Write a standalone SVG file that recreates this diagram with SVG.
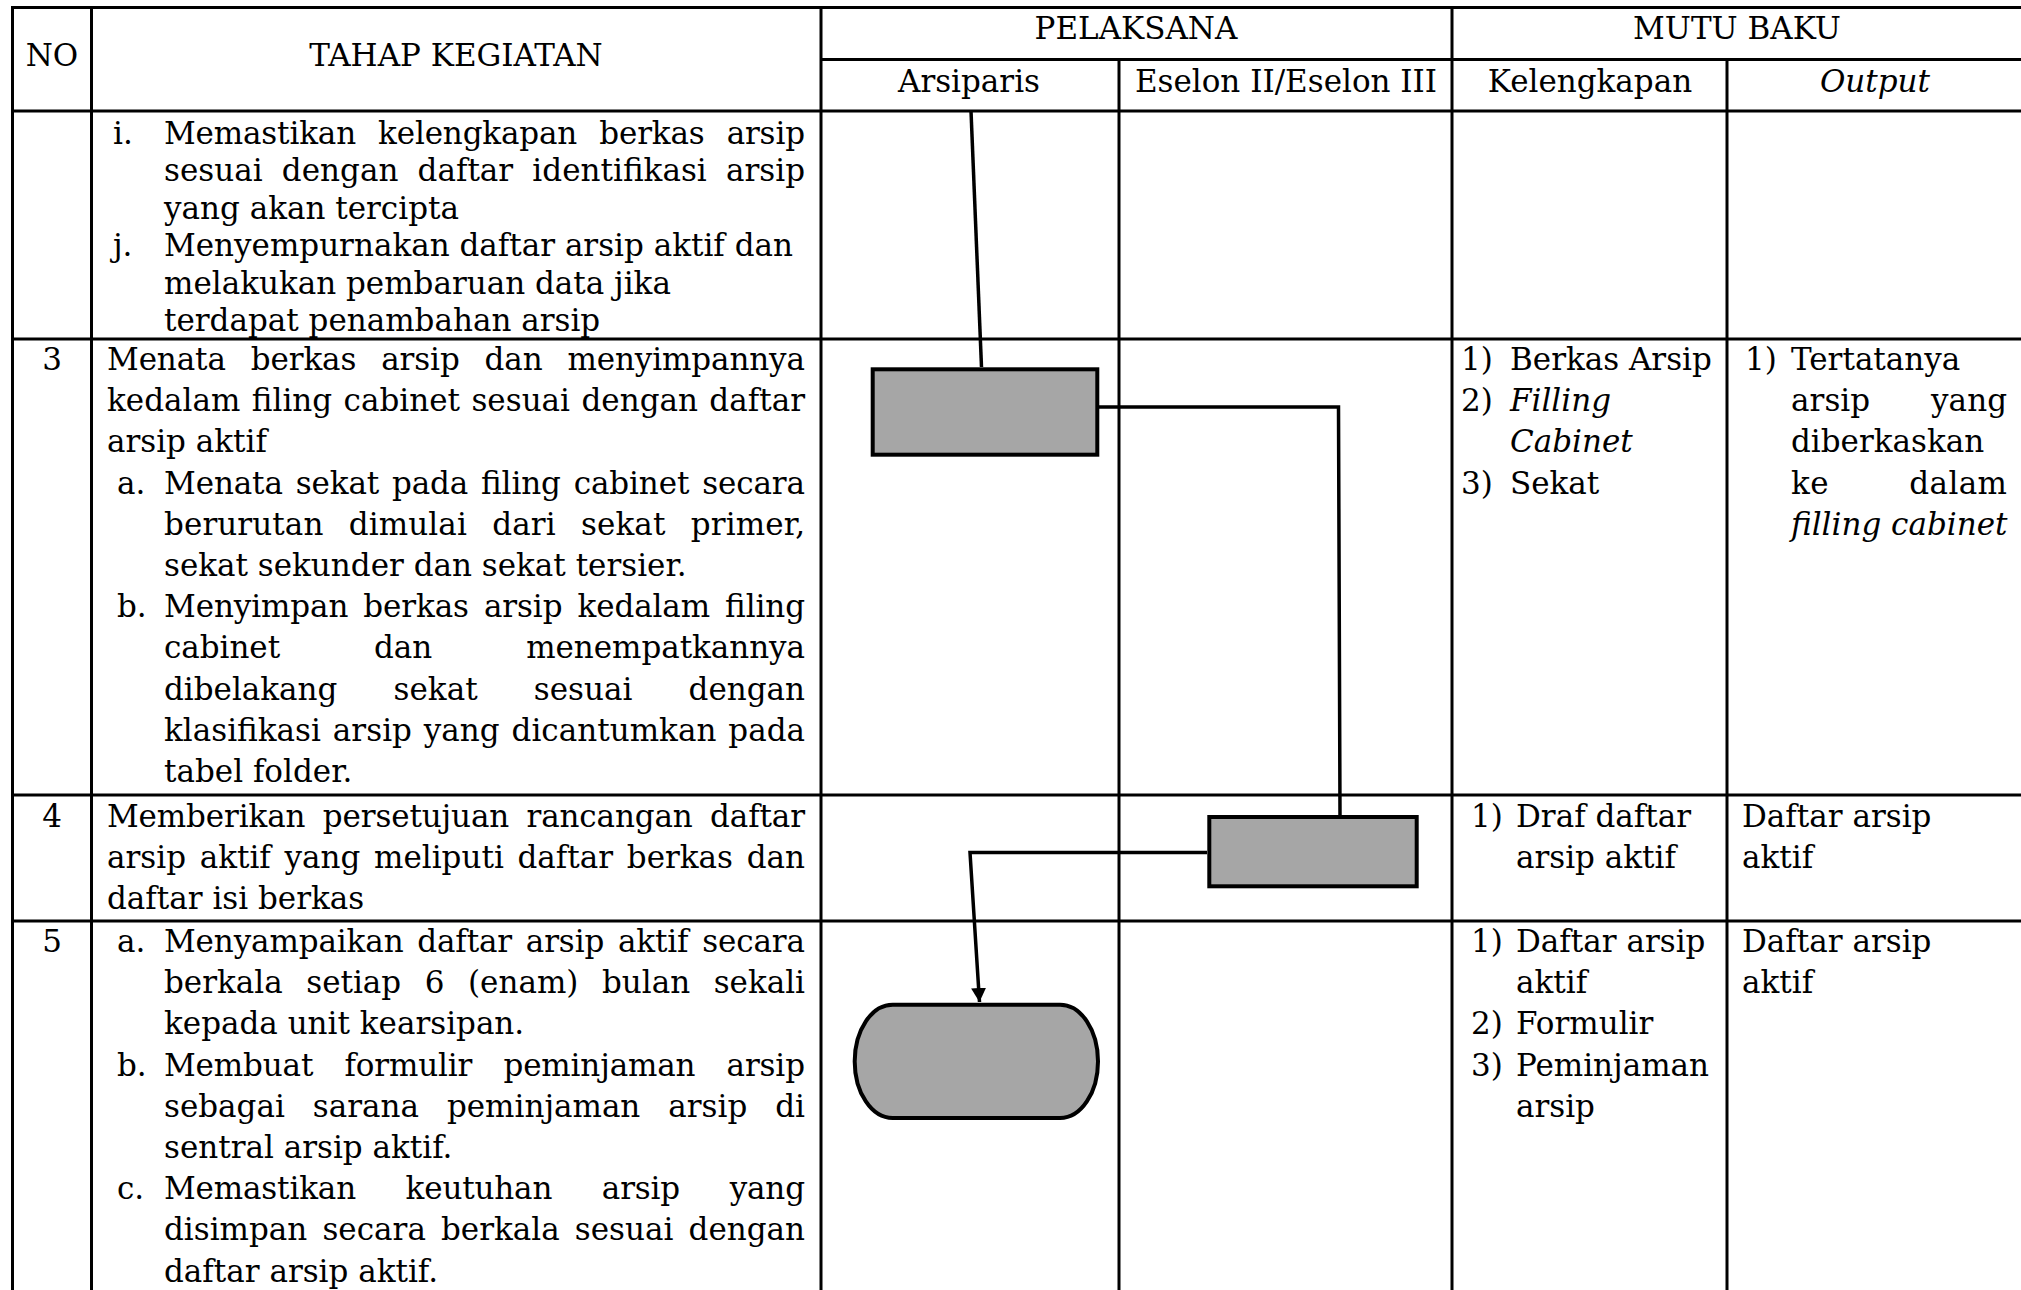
<svg xmlns="http://www.w3.org/2000/svg" width="2021" height="1290" viewBox="0 0 2021 1290">
<style>
.t{font-family:"DejaVu Serif","Liberation Serif",serif;font-size:31px;fill:#000}
.it{font-style:italic}
.m{text-anchor:middle}
.grid line{stroke:#000;stroke-width:3}
.box{fill:#a6a6a6;stroke:#000;stroke-width:4}
.con{fill:none;stroke:#000;stroke-width:3.5}
</style>
<defs>
<marker id="arr" markerUnits="userSpaceOnUse" markerWidth="16" markerHeight="16" refX="14" refY="7.5" orient="auto">
<path d="M0,0 L14,7.5 L0,15 z" fill="#000"/>
</marker>
</defs>
<rect width="2021" height="1290" fill="#fff"/>
<g id="table" class="grid">
<line x1="11" y1="7.5" x2="2021" y2="7.5"/>
<line x1="821" y1="59.5" x2="2021" y2="59.5"/>
<line x1="11" y1="111" x2="2021" y2="111"/>
<line x1="11" y1="339" x2="2021" y2="339"/>
<line x1="11" y1="795" x2="2021" y2="795"/>
<line x1="11" y1="921" x2="2021" y2="921"/>
<line x1="12.5" y1="6" x2="12.5" y2="1290"/>
<line x1="91.5" y1="6" x2="91.5" y2="1290"/>
<line x1="821" y1="6" x2="821" y2="1290"/>
<line x1="1119" y1="59.5" x2="1119" y2="1290"/>
<line x1="1452" y1="6" x2="1452" y2="1290"/>
<line x1="1727" y1="59.5" x2="1727" y2="1290"/>
</g>
<g id="header" class="t">
<text class="m" x="52" y="66">NO</text>
<text class="m" x="456" y="66">TAHAP KEGIATAN</text>
<text class="m" x="1136" y="39">PELAKSANA</text>
<text class="m" x="1737" y="39">MUTU BAKU</text>
<text class="m" x="969" y="92">Arsiparis</text>
<text class="m" x="1286" y="92">Eselon II/Eselon III</text>
<text class="m" x="1590" y="92">Kelengkapan</text>
<text class="m it" x="1875" y="92">Output</text>
</g>
<g id="row-ij" class="t">
<text x="113" y="144">i.</text>
<text x="164" y="144" word-spacing="12.4" textLength="641" lengthAdjust="spacing">Memastikan kelengkapan berkas arsip</text>
<text x="164" y="181.4" word-spacing="9.3" textLength="641" lengthAdjust="spacing">sesuai dengan daftar identifikasi arsip</text>
<text x="164" y="218.8">yang akan tercipta</text>
<text x="113" y="256.2">j.</text>
<text x="164" y="256.2">Menyempurnakan daftar arsip aktif dan</text>
<text x="164" y="293.6">melakukan pembaruan data jika</text>
<text x="164" y="331">terdapat penambahan arsip</text>
</g>
<g id="row-3" class="t">
<text class="m" x="52" y="370">3</text>
<text x="107" y="370" word-spacing="15.2" textLength="698" lengthAdjust="spacing">Menata berkas arsip dan menyimpannya</text>
<text x="107" y="411.2" word-spacing="1.5" textLength="698" lengthAdjust="spacing">kedalam filing cabinet sesuai dengan daftar</text>
<text x="107" y="452.4">arsip aktif</text>
<text x="117" y="493.6">a.</text>
<text x="164" y="493.6" word-spacing="3.1" textLength="641" lengthAdjust="spacing">Menata sekat pada filing cabinet secara</text>
<text x="164" y="534.8" word-spacing="15.4" textLength="641" lengthAdjust="spacing">berurutan dimulai dari sekat primer,</text>
<text x="164" y="576">sekat sekunder dan sekat tersier.</text>
<text x="117" y="617.2">b.</text>
<text x="164" y="617.2" word-spacing="5.3" textLength="641" lengthAdjust="spacing">Menyimpan berkas arsip kedalam filing</text>
<text x="164" y="658.4" word-spacing="84.2" textLength="641" lengthAdjust="spacing">cabinet dan menempatkannya</text>
<text x="164" y="699.6" word-spacing="46.4" textLength="641" lengthAdjust="spacing">dibelakang sekat sesuai dengan</text>
<text x="164" y="740.8" word-spacing="2" textLength="641" lengthAdjust="spacing">klasifikasi arsip yang dicantumkan pada</text>
<text x="164" y="782">tabel folder.</text>
<text x="1461" y="370">1)</text>
<text x="1510" y="370">Berkas Arsip</text>
<text x="1461" y="411.2">2)</text>
<text class="it" x="1510" y="411.2">Filling</text>
<text class="it" x="1510" y="452.4">Cabinet</text>
<text x="1461" y="493.6">3)</text>
<text x="1510" y="493.6">Sekat</text>
<text x="1745" y="370">1)</text>
<text x="1791" y="370">Tertatanya</text>
<text x="1791" y="411.2" word-spacing="51" textLength="216" lengthAdjust="spacing">arsip yang</text>
<text x="1791" y="452.4">diberkaskan</text>
<text x="1791" y="493.6" word-spacing="70" textLength="216" lengthAdjust="spacing">ke dalam</text>
<text class="it" x="1791" y="534.8">filling cabinet</text>
</g>
<g id="row-4" class="t">
<text class="m" x="52" y="827">4</text>
<text x="107" y="827" word-spacing="7.6" textLength="698" lengthAdjust="spacing">Memberikan persetujuan rancangan daftar</text>
<text x="107" y="868.2" word-spacing="3.8" textLength="698" lengthAdjust="spacing">arsip aktif yang meliputi daftar berkas dan</text>
<text x="107" y="909.4">daftar isi berkas</text>
<text x="1471" y="827">1)</text>
<text x="1516" y="827">Draf daftar</text>
<text x="1516" y="868.2">arsip aktif</text>
<text x="1742" y="827">Daftar arsip</text>
<text x="1742" y="868.2">aktif</text>
</g>
<g id="row-5" class="t">
<text class="m" x="52" y="952">5</text>
<text x="117" y="952">a.</text>
<text x="164" y="952" word-spacing="4" textLength="641" lengthAdjust="spacing">Menyampaikan daftar arsip aktif secara</text>
<text x="164" y="993.2" word-spacing="13.7" textLength="641" lengthAdjust="spacing">berkala setiap 6 (enam) bulan sekali</text>
<text x="164" y="1034.4">kepada unit kearsipan.</text>
<text x="117" y="1075.6">b.</text>
<text x="164" y="1075.6" word-spacing="21.5" textLength="641" lengthAdjust="spacing">Membuat formulir peminjaman arsip</text>
<text x="164" y="1116.8" word-spacing="18.1" textLength="641" lengthAdjust="spacing">sebagai sarana peminjaman arsip di</text>
<text x="164" y="1158">sentral arsip aktif.</text>
<text x="117" y="1199.2">c.</text>
<text x="164" y="1199.2" word-spacing="39.9" textLength="641" lengthAdjust="spacing">Memastikan keutuhan arsip yang</text>
<text x="164" y="1240.4" word-spacing="5.3" textLength="641" lengthAdjust="spacing">disimpan secara berkala sesuai dengan</text>
<text x="164" y="1281.6">daftar arsip aktif.</text>
<text x="1471" y="952">1)</text>
<text x="1516" y="952">Daftar arsip</text>
<text x="1516" y="993.2">aktif</text>
<text x="1471" y="1034.4">2)</text>
<text x="1516" y="1034.4">Formulir</text>
<text x="1471" y="1075.6">3)</text>
<text x="1516" y="1075.6">Peminjaman</text>
<text x="1516" y="1116.8">arsip</text>
<text x="1742" y="952">Daftar arsip</text>
<text x="1742" y="993.2">aktif</text>
</g>
<g id="connectors">
<path class="con" d="M971,111 L981.5,367"/>
<path class="con" d="M1099,407 L1338.5,407 L1340,815"/>
<path class="con" d="M1207,852.5 L970,852.5 L979.5,1002" marker-end="url(#arr)"/>
</g>
<g id="node-step3">
<rect class="box" x="872.7" y="369.3" width="224.6" height="85.4"/>
</g>
<g id="node-step4">
<rect class="box" x="1209.3" y="817" width="207.4" height="69.3"/>
</g>
<g id="node-step5">
<rect class="box" x="854.7" y="1004.7" width="243.3" height="113.3" rx="38" ry="56.6"/>
</g>
</svg>
